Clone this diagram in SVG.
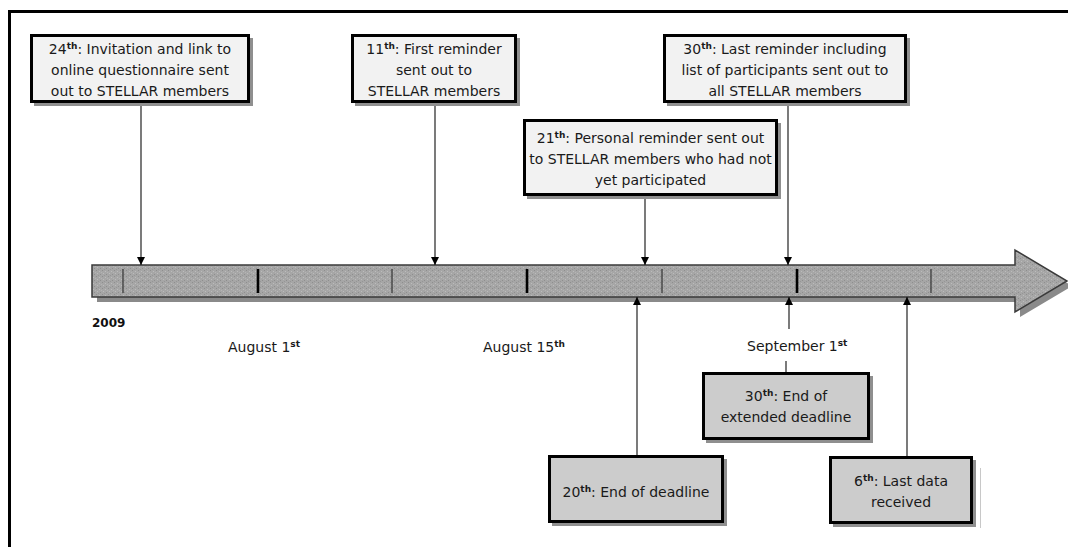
<svg xmlns="http://www.w3.org/2000/svg" width="1068" height="547" viewBox="0 0 1068 547">
<defs>
<pattern id="stip" width="6" height="6" patternUnits="userSpaceOnUse">
<rect width="6" height="6" fill="#a6a6a6"/>
<rect x="0" y="0" width="1" height="1" fill="#8e8e8e"/>
<rect x="3" y="1" width="1" height="1" fill="#bcbcbc"/>
<rect x="1" y="3" width="1" height="1" fill="#bcbcbc"/>
<rect x="4" y="4" width="1" height="1" fill="#8e8e8e"/>
<rect x="2" y="5" width="1" height="1" fill="#969696"/>
<rect x="5" y="2" width="1" height="1" fill="#b4b4b4"/>
</pattern>
<marker id="ah" viewBox="0 0 10 10" refX="10" refY="5" markerWidth="8" markerHeight="8" markerUnits="userSpaceOnUse" orient="auto">
<path d="M0,0 L10,5 L0,10 z" fill="#000"/>
</marker>
</defs>
<style>
.t{font-family:"DejaVu Sans",Verdana,sans-serif;font-size:14px;fill:#1a1a1a;text-anchor:middle}
.l{font-family:"DejaVu Sans",Verdana,sans-serif;font-size:14px;fill:#1a1a1a}
.sup{font-size:9px;font-weight:bold}
.sh{fill:#8f8f8f}
.top{fill:#f2f2f2;stroke:#000;stroke-width:3}
.bot{fill:#cccccc;stroke:#000;stroke-width:3}
.c{stroke:#222;stroke-width:1.2;fill:none}
.ca{stroke:#222;stroke-width:1.2;fill:none;marker-end:url(#ah)}
.tk{stroke:#333;stroke-width:1.2}
.tK{stroke:#000;stroke-width:2.6}
</style>
<rect width="1068" height="547" fill="#fff"/>
<g id="frame">
<line x1="8" y1="11.5" x2="1068" y2="11.5" stroke="#000" stroke-width="3"/>
<line x1="9.5" y1="10" x2="9.5" y2="547" stroke="#000" stroke-width="3"/>
<line x1="980.5" y1="468" x2="980.5" y2="528" stroke="#c8c8c8" stroke-width="1"/>
</g>
<g id="timeline">
<path d="M97,270 L1020,270 L1020,255 L1072,286 L1020,317 L1020,302 L97,302 Z" fill="#8a8a8a"/>
<path d="M92,265 L1015,265 L1015,250 L1067,281 L1015,312 L1015,297 L92,297 Z" fill="url(#stip)" stroke="#3a3a3a" stroke-width="1.5"/>
<line class="tk" x1="123" y1="269" x2="123" y2="293"/>
<line class="tK" x1="258" y1="269" x2="258" y2="293"/>
<line class="tk" x1="392" y1="269" x2="392" y2="293"/>
<line class="tK" x1="527" y1="269" x2="527" y2="293"/>
<line class="tk" x1="662" y1="269" x2="662" y2="293"/>
<line class="tK" x1="797" y1="269" x2="797" y2="293"/>
<line class="tk" x1="931" y1="269" x2="931" y2="293"/>
</g>
<g id="labels">
<text x="92" y="327" font-family="'DejaVu Sans',Verdana,sans-serif" font-size="12" font-weight="bold" fill="#111">2009</text>
<text class="l" x="228" y="352">August 1<tspan class="sup" dy="-5">st</tspan></text>
<text class="l" x="483" y="352">August 15<tspan class="sup" dy="-5">th</tspan></text>
<text class="l" x="747" y="351">September 1<tspan class="sup" dy="-5">st</tspan></text>
</g>
<g id="connectors">
<line class="ca" x1="141" y1="103" x2="141" y2="265"/>
<line class="ca" x1="435" y1="103" x2="435" y2="265"/>
<line class="ca" x1="645" y1="196" x2="645" y2="265"/>
<line class="ca" x1="788" y1="103" x2="788" y2="265"/>
<line class="ca" x1="637" y1="455" x2="637" y2="297"/>
<line class="ca" x1="789" y1="329" x2="789" y2="297"/>
<line class="c" x1="786" y1="361" x2="786" y2="372"/>
<line class="ca" x1="907" y1="456" x2="907" y2="297"/>
</g>
<g id="n1">
<rect class="sh" x="34" y="38" width="219" height="68"/>
<rect class="top" x="31.5" y="35.5" width="217" height="66"/>
<text class="t" x="140" y="54">24<tspan class="sup" dy="-5">th</tspan><tspan dy="5">: Invitation and link to</tspan></text>
<text class="t" x="140" y="75">online questionnaire sent</text>
<text class="t" x="140" y="96">out to STELLAR members</text>
</g>
<g id="n2">
<rect class="sh" x="355" y="38" width="165" height="68"/>
<rect class="top" x="352.5" y="35.5" width="163" height="66"/>
<text class="t" x="434" y="54">11<tspan class="sup" dy="-5">th</tspan><tspan dy="5">: First reminder</tspan></text>
<text class="t" x="434" y="75">sent out to</text>
<text class="t" x="434" y="96">STELLAR members</text>
</g>
<g id="n3">
<rect class="sh" x="667" y="38" width="243" height="68"/>
<rect class="top" x="664.5" y="35.5" width="241" height="66"/>
<text class="t" x="785" y="54">30<tspan class="sup" dy="-5">th</tspan><tspan dy="5">: Last reminder including</tspan></text>
<text class="t" x="785" y="75">list of participants sent out to</text>
<text class="t" x="785" y="96">all STELLAR members</text>
</g>
<g id="n4">
<rect class="sh" x="527" y="123" width="254" height="76"/>
<rect class="top" x="524.5" y="120.5" width="252" height="74"/>
<text class="t" x="650.5" y="143">21<tspan class="sup" dy="-5">th</tspan><tspan dy="5">: Personal reminder sent out</tspan></text>
<text class="t" x="650.5" y="164">to STELLAR members who had not</text>
<text class="t" x="650.5" y="185">yet participated</text>
</g>
<g id="n5">
<rect class="sh" x="552" y="459" width="175" height="67"/>
<rect class="bot" x="549.5" y="456.5" width="173" height="65"/>
<text class="t" x="636" y="497">20<tspan class="sup" dy="-5">th</tspan><tspan dy="5">: End of deadline</tspan></text>
</g>
<g id="n6">
<rect class="sh" x="706" y="376" width="167" height="67"/>
<rect class="bot" x="703.5" y="373.5" width="165" height="65"/>
<text class="t" x="786" y="401">30<tspan class="sup" dy="-5">th</tspan><tspan dy="5">: End of</tspan></text>
<text class="t" x="786" y="422">extended deadline</text>
</g>
<g id="n7">
<rect class="sh" x="833" y="460" width="143" height="67"/>
<rect class="bot" x="830.5" y="457.5" width="141" height="65"/>
<text class="t" x="901" y="486">6<tspan class="sup" dy="-5">th</tspan><tspan dy="5">: Last data</tspan></text>
<text class="t" x="901" y="507">received</text>
</g>
</svg>
